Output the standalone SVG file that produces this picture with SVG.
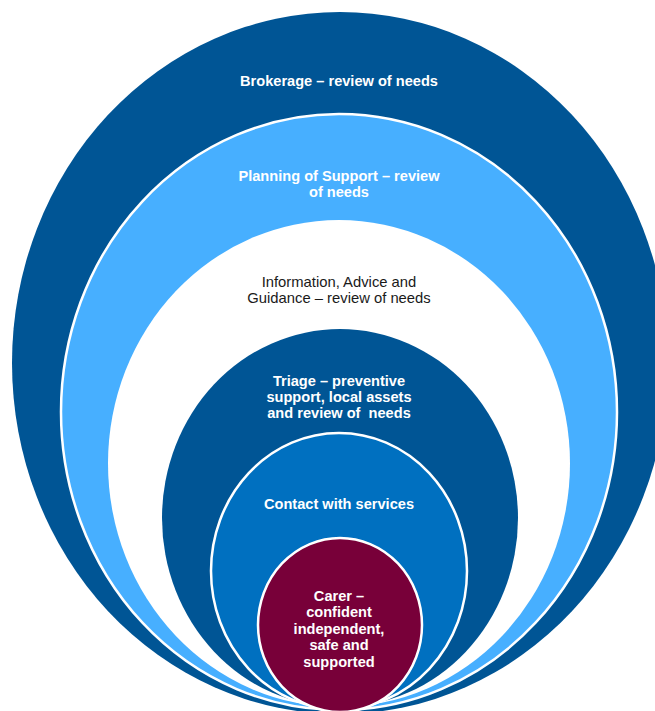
<svg xmlns="http://www.w3.org/2000/svg" width="655" height="711" viewBox="0 0 655 711">
<style>
.t{font-family:"Liberation Sans",Arial,sans-serif;font-size:14.6px;text-anchor:middle}
.b{font-weight:bold;fill:#ffffff}
.n{fill:#1a1a1a;font-size:14.8px}
.ring{stroke:#ffffff;stroke-width:2.5}
</style>
<rect width="655" height="711" fill="#ffffff"/>
<g id="brokerage">
<ellipse cx="340" cy="363" rx="328" ry="351" fill="#005595"/>
<text class="t b" x="339" y="85.5">Brokerage – review of needs</text>
</g>
<g id="planning">
<ellipse class="ring" cx="339" cy="412" rx="278" ry="298" fill="#47AFFF"/>
<text class="t b" x="339" y="180.5">Planning of Support – review</text>
<text class="t b" x="339" y="196.5">of needs</text>
</g>
<g id="information">
<ellipse cx="339" cy="463.5" rx="231" ry="243.5" fill="#ffffff"/>
<text class="t n" x="339" y="286.5">Information, Advice and</text>
<text class="t n" x="339" y="302.5">Guidance – review of needs</text>
</g>
<g id="triage">
<ellipse cx="340" cy="518" rx="178" ry="189" fill="#005595"/>
<text class="t b" x="339" y="385.7">Triage – preventive</text>
<text class="t b" x="339" y="401.7">support, local assets</text>
<text class="t b" x="339" y="417.7" xml:space="preserve">and review of  needs</text>
</g>
<g id="contact">
<ellipse class="ring" cx="339" cy="571" rx="128" ry="138" fill="#0070C0"/>
<text class="t b" x="339" y="509">Contact with services</text>
</g>
<g id="carer">
<ellipse class="ring" cx="340" cy="625" rx="82" ry="87" fill="#780039"/>
<text class="t b" x="339" y="601">Carer –</text>
<text class="t b" x="339" y="617">confident</text>
<text class="t b" x="339" y="633.5">independent,</text>
<text class="t b" x="339" y="650">safe and</text>
<text class="t b" x="339" y="666.5">supported</text>
</g>
<g id="connectors"></g>
</svg>
